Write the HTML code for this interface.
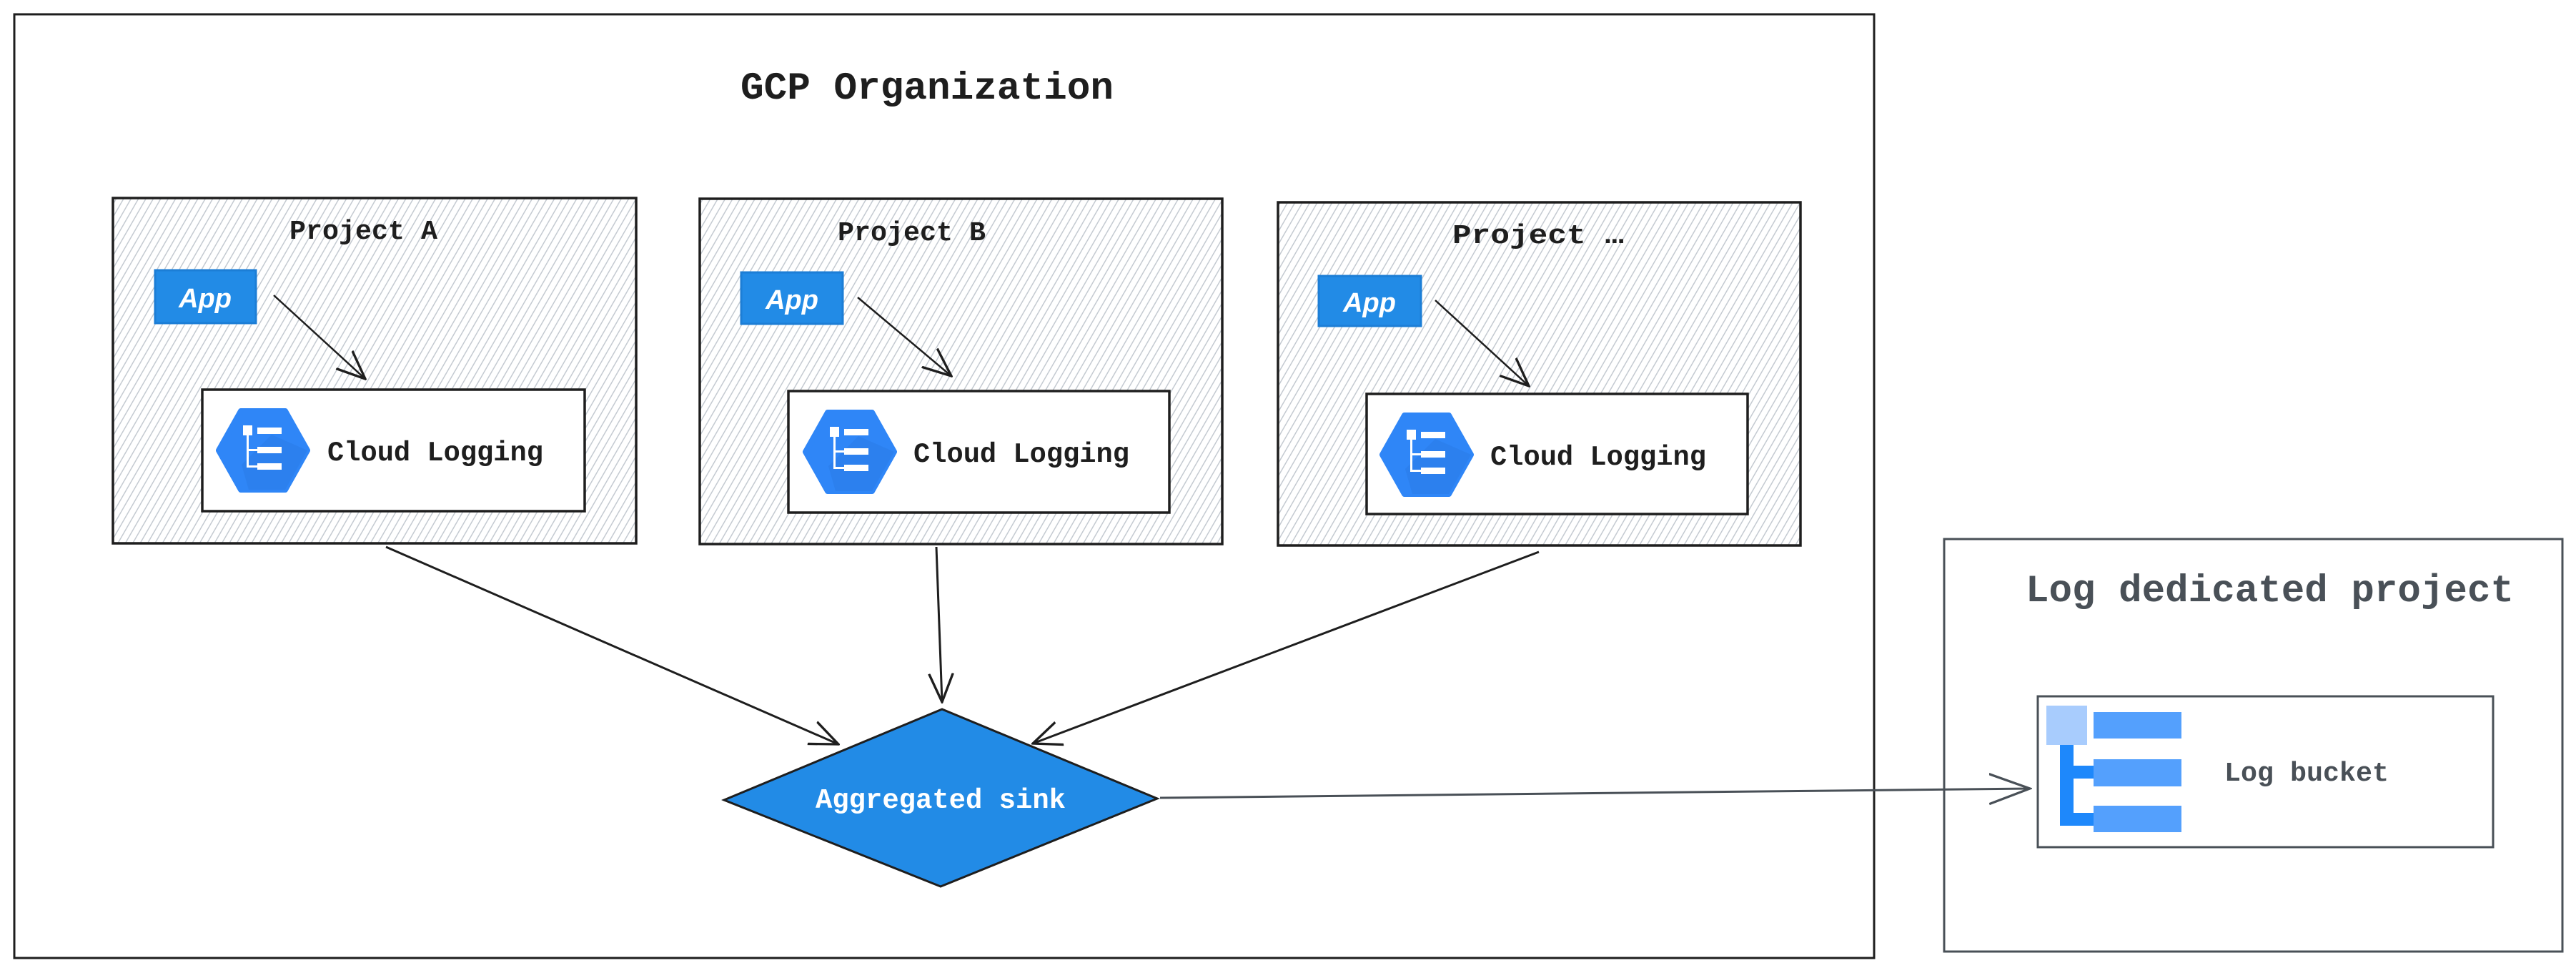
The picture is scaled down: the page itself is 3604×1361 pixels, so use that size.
<!DOCTYPE html>
<html><head><meta charset="utf-8"><style>
html,body{margin:0;padding:0;background:#fff;}
svg{display:block;}
.mono{font-family:"Liberation Mono","DejaVu Sans Mono",monospace;font-weight:bold;}
</style></head><body>
<svg width="3604" height="1361" viewBox="0 0 3604 1361" xmlns="http://www.w3.org/2000/svg">
<defs>
<pattern id="hatch" width="9" height="9" patternUnits="userSpaceOnUse" patternTransform="rotate(30)">
<rect width="9" height="9" fill="#fff"/>
<line x1="0" y1="0" x2="0" y2="9" stroke="#c4cad1" stroke-width="3"/>
</pattern>
<marker id="ah" viewBox="0 0 20 20" refX="19" refY="10" markerWidth="42" markerHeight="42" markerUnits="userSpaceOnUse" orient="auto">
<path d="M0,2 L19,10 L0,18" fill="none" stroke="#1e1e1e" stroke-width="1.6"/>
</marker>
<marker id="ahg" viewBox="0 0 20 20" refX="19" refY="10" markerWidth="60" markerHeight="60" markerUnits="userSpaceOnUse" orient="auto">
<path d="M0,3 L19,10 L0,17" fill="none" stroke="#495057" stroke-width="1.1"/>
</marker>
<g id="hex">
<polygon points="-62,0 -31,-55 31,-55 62,0 31,55 -31,55" fill="#2f86f7" stroke="#2f86f7" stroke-width="8" stroke-linejoin="round"/>
<polygon points="12,-22 62,0 31,55 -20,55 -30,20" fill="#2b7de9" opacity="0.7"/>
<rect x="-28" y="-35" width="13" height="14" fill="#fff"/>
<rect x="-23" y="-21" width="3" height="45" fill="#fff"/>
<rect x="-8" y="-32" width="34" height="9" fill="#fff"/>
<rect x="-8" y="-5" width="34" height="9" fill="#fff"/>
<rect x="-8" y="18" width="34" height="9" fill="#fff"/>
<rect x="-21" y="-2" width="13" height="3" fill="#fff"/>
<rect x="-21" y="21" width="13" height="3" fill="#fff"/>
</g>
</defs>

<rect x="20" y="20" width="2602" height="1320" fill="none" stroke="#1e1e1e" stroke-width="3"/>
<text x="1036" y="138" class="mono" font-size="54" textLength="522" lengthAdjust="spacingAndGlyphs" fill="#1e1e1e">GCP Organization</text>

<rect x="158" y="277" width="732" height="483" fill="url(#hatch)" stroke="#1e1e1e" stroke-width="3.5"/>
<text x="405" y="334" class="mono" font-size="38" textLength="207" lengthAdjust="spacingAndGlyphs" fill="#1e1e1e">Project A</text>
<rect x="217" y="378" width="141" height="74" fill="#228be6" stroke="#1c7ed6" stroke-width="3"/>
<text x="287" y="430" text-anchor="middle" font-family="Liberation Sans, sans-serif" font-style="italic" font-weight="bold" font-size="38" fill="#fff">App</text>
<line x1="383" y1="413" x2="511" y2="530" stroke="#1e1e1e" stroke-width="2.5" marker-end="url(#ah)"/>
<rect x="283" y="545" width="535" height="170" fill="#fff" stroke="#1e1e1e" stroke-width="3.5"/>
<use href="#hex" transform="translate(368,630)"/>
<text x="458" y="644" class="mono" font-size="39" textLength="302" lengthAdjust="spacingAndGlyphs" fill="#1e1e1e">Cloud Logging</text>

<rect x="979" y="278" width="731" height="483" fill="url(#hatch)" stroke="#1e1e1e" stroke-width="3.5"/>
<text x="1172" y="336" class="mono" font-size="38" textLength="207" lengthAdjust="spacingAndGlyphs" fill="#1e1e1e">Project B</text>
<rect x="1037" y="381" width="142" height="72" fill="#228be6" stroke="#1c7ed6" stroke-width="3"/>
<text x="1108" y="432" text-anchor="middle" font-family="Liberation Sans, sans-serif" font-style="italic" font-weight="bold" font-size="38" fill="#fff">App</text>
<line x1="1200" y1="416" x2="1331" y2="526" stroke="#1e1e1e" stroke-width="2.5" marker-end="url(#ah)"/>
<rect x="1103" y="547" width="533" height="170" fill="#fff" stroke="#1e1e1e" stroke-width="3.5"/>
<use href="#hex" transform="translate(1189,632)"/>
<text x="1278" y="646" class="mono" font-size="39" textLength="302" lengthAdjust="spacingAndGlyphs" fill="#1e1e1e">Cloud Logging</text>

<rect x="1788" y="283" width="731" height="480" fill="url(#hatch)" stroke="#1e1e1e" stroke-width="3.5"/>
<text x="2032" y="340" class="mono" font-size="38" textLength="240" lengthAdjust="spacingAndGlyphs" fill="#1e1e1e">Project …</text>
<rect x="1845" y="386" width="143" height="70" fill="#228be6" stroke="#1c7ed6" stroke-width="3"/>
<text x="1916" y="436" text-anchor="middle" font-family="Liberation Sans, sans-serif" font-style="italic" font-weight="bold" font-size="38" fill="#fff">App</text>
<line x1="2008" y1="420" x2="2139" y2="540" stroke="#1e1e1e" stroke-width="2.5" marker-end="url(#ah)"/>
<rect x="1912" y="551" width="533" height="168" fill="#fff" stroke="#1e1e1e" stroke-width="3.5"/>
<use href="#hex" transform="translate(1996,636)"/>
<text x="2085" y="650" class="mono" font-size="39" textLength="302" lengthAdjust="spacingAndGlyphs" fill="#1e1e1e">Cloud Logging</text>

<line x1="540" y1="765" x2="1173" y2="1041" stroke="#1e1e1e" stroke-width="3" marker-end="url(#ah)"/>
<line x1="1310" y1="765" x2="1318" y2="982" stroke="#1e1e1e" stroke-width="3" marker-end="url(#ah)"/>
<line x1="2153" y1="772" x2="1445" y2="1040" stroke="#1e1e1e" stroke-width="3" marker-end="url(#ah)"/>

<polygon points="1013,1119 1318,992 1619,1117 1316,1240" fill="#228be6" stroke="#1e1e1e" stroke-width="3"/>
<text x="1141" y="1130" class="mono" font-size="39" textLength="350" lengthAdjust="spacingAndGlyphs" fill="#fff">Aggregated sink</text>

<line x1="1623" y1="1116" x2="2840" y2="1103" stroke="#495057" stroke-width="3" marker-end="url(#ahg)"/>

<rect x="2720" y="754" width="865" height="577" fill="none" stroke="#495057" stroke-width="3"/>
<text x="2834" y="841" class="mono" font-size="54" textLength="683" lengthAdjust="spacingAndGlyphs" fill="#495057">Log dedicated project</text>
<rect x="2851" y="974" width="637" height="211" fill="#fff" stroke="#495057" stroke-width="3"/>
<rect x="2882" y="1042" width="19" height="113" fill="#1e88fb"/>
<rect x="2882" y="1071" width="50" height="18" fill="#1e88fb"/>
<rect x="2882" y="1137" width="50" height="18" fill="#1e88fb"/>
<rect x="2863" y="987" width="57" height="55" fill="#a8ccfd"/>
<rect x="2929" y="996" width="123" height="37" fill="#54a0fd"/>
<rect x="2929" y="1062" width="123" height="38" fill="#54a0fd"/>
<rect x="2929" y="1127" width="123" height="37" fill="#54a0fd"/>
<text x="3112" y="1092" class="mono" font-size="38" textLength="230" lengthAdjust="spacingAndGlyphs" fill="#495057">Log bucket</text>
</svg>
</body></html>
